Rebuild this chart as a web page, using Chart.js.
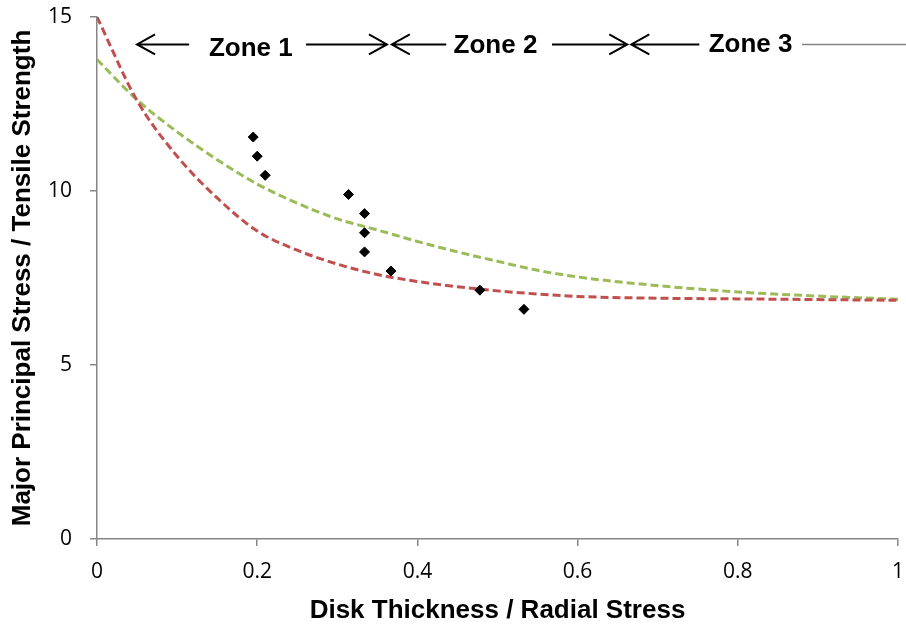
<!DOCTYPE html>
<html lang="en">
<head>
<meta charset="UTF-8">
<title>Major Principal Stress vs Disk Thickness</title>
<script src="https://cdn.jsdelivr.net/npm/chart.js"></script>
<style>
  html, body { margin: 0; padding: 0; background: #fff; }
  #wrap { width: 906px; height: 626px; }
</style>
</head>
<body>
<div id="wrap"><canvas id="stressChart" width="906" height="626"></canvas></div>
<script>
// test results (diamonds)
const testX = [0.195, 0.2, 0.21, 0.314, 0.334, 0.334, 0.334, 0.367, 0.478, 0.533];
const testY = [11.55, 11.0, 10.45, 9.9, 9.35, 8.8, 8.25, 7.7, 7.15, 6.6];

// the two dashed bound curves, sampled along x
const curveX = [0, 0.05, 0.1, 0.15, 0.2, 0.25, 0.3, 0.35, 0.4, 0.45, 0.5, 0.55, 0.6, 0.7, 0.8, 0.9, 1];
const redY   = [15, 12.6, 11.0, 9.8, 8.85, 8.3, 7.9, 7.6, 7.4, 7.25, 7.13, 7.04, 6.97, 6.92, 6.9, 6.88, 6.86];
const greenY = [13.78, 12.62, 11.7, 10.9, 10.2, 9.65, 9.2, 8.88, 8.55, 8.25, 7.98, 7.72, 7.53, 7.28, 7.1, 6.98, 6.89];

const xTicks = [0, 0.2, 0.4, 0.6, 0.8, 1];
const yTicks = [0, 5, 10, 15];
const zoneNames = ['Zone 1', 'Zone 2', 'Zone 3'];

// where the zone labels and arrows sit, in axis units
const zoneMarks = [
  { text: zoneNames[0], at: 0.192, ty: 14.08, left: [0.115, 0.05], right: [0.261, 0.362] },
  { text: zoneNames[1], at: 0.4975, ty: 14.17, left: [0.436, 0.368], right: [0.568, 0.662] },
  { text: zoneNames[2], at: 0.816, ty: 14.2, left: [0.752, 0.667], tail: [0.88, 1.01] }
];
const arrowY = 14.21;

function toPoints(xs, ys) {
  return xs.map((x, i) => ({ x: x, y: ys[i] }));
}

function arrow(ctx, xFrom, xTip, y) {
  const dir = xTip > xFrom ? 1 : -1;
  ctx.beginPath();
  ctx.moveTo(xFrom, y);
  ctx.lineTo(xTip, y);
  ctx.moveTo(xTip - dir * 18, y - 10);
  ctx.lineTo(xTip, y);
  ctx.lineTo(xTip - dir * 18, y + 10);
  ctx.stroke();
}

const zonePlugin = {
  id: 'zones',
  afterDatasetsDraw(chart) {
    const ctx = chart.ctx;
    const xs = chart.scales.x, ys = chart.scales.y;
    const ay = ys.getPixelForValue(arrowY);
    ctx.save();
    ctx.font = 'bold 26px "Liberation Sans", Arial, sans-serif';
    ctx.textAlign = 'center';
    ctx.textBaseline = 'middle';
    ctx.fillStyle = '#000';
    ctx.strokeStyle = '#000';
    ctx.lineWidth = 2;
    zoneMarks.forEach(z => {
      ctx.fillText(z.text, xs.getPixelForValue(z.at), ys.getPixelForValue(z.ty));
      arrow(ctx, xs.getPixelForValue(z.left[0]), xs.getPixelForValue(z.left[1]), ay);
      if (z.right) {
        arrow(ctx, xs.getPixelForValue(z.right[0]), xs.getPixelForValue(z.right[1]), ay);
      }
      if (z.tail) {
        ctx.save();
        ctx.strokeStyle = '#868686';
        ctx.lineWidth = 1.5;
        ctx.beginPath();
        ctx.moveTo(xs.getPixelForValue(z.tail[0]), ay);
        ctx.lineTo(xs.getPixelForValue(z.tail[1]), ay);
        ctx.stroke();
        ctx.restore();
      }
    });
    ctx.restore();
  }
};

const axisGrey = '#868686';
const titleFont = { family: '"Liberation Sans", Arial, sans-serif', size: 26, weight: 'bold' };
const tickFont = { family: '"Open Sans", sans-serif', size: 21 };

const curveStyle = {
  showLine: true,
  borderWidth: 3,
  borderDash: [8, 4],
  pointRadius: 0,
  cubicInterpolationMode: 'monotone'
};

// fixed axis boxes; labels are allowed to overhang the plot edges
function fitBox(s, size) {
  if (s.isHorizontal()) s.height = size; else s.width = size;
  s.paddingTop = s.paddingBottom = s.paddingLeft = s.paddingRight = 0;
}

new Chart(document.getElementById('stressChart'), {
  type: 'scatter',
  data: {
    datasets: [
      {
        label: 'Tests',
        data: toPoints(testX, testY),
        pointStyle: 'rectRot',
        pointRadius: 5,
        backgroundColor: '#000',
        borderColor: '#000',
        borderWidth: 1
      },
      Object.assign({ label: 'Upper', data: toPoints(curveX, redY), borderColor: '#c0504d' }, curveStyle),
      Object.assign({ label: 'Lower', data: toPoints(curveX, greenY), borderColor: '#9bbb59' }, curveStyle)
    ]
  },
  options: {
    responsive: false,
    animation: false,
    layout: { padding: { top: 17, right: 8, left: 0, bottom: 0 } },
    plugins: {
      legend: { display: false },
      tooltip: { enabled: false }
    },
    scales: {
      x: {
        type: 'linear',
        min: 0,
        max: 1,
        afterBuildTicks: s => { s.ticks = xTicks.map(v => ({ value: v })); },
        afterFit: s => fitBox(s, 87),
        ticks: {
          font: tickFont,
          color: '#000',
          padding: 13,
          callback: v => String(Number(v.toFixed(1)))
        },
        grid: { drawOnChartArea: false, drawTicks: true, tickLength: 7, color: axisGrey, lineWidth: 1.5 },
        border: { color: axisGrey, width: 1.5 },
        title: { display: true, text: 'Disk Thickness / Radial Stress', font: titleFont, color: '#000', padding: { top: 0, bottom: 0 } }
      },
      y: {
        min: 0,
        max: 15,
        afterBuildTicks: s => { s.ticks = yTicks.map(v => ({ value: v })); },
        afterFit: s => fitBox(s, 97),
        ticks: { font: tickFont, color: '#000', padding: 18 },
        grid: { drawOnChartArea: false, drawTicks: true, tickLength: 7, color: axisGrey, lineWidth: 1.5 },
        border: { color: axisGrey, width: 1.5 },
        title: { display: true, text: 'Major Principal Stress / Tensile Strength', font: titleFont, color: '#000', padding: { top: 7, bottom: 0 } }
      }
    }
  },
  plugins: [zonePlugin]
});
</script>
</body>
</html>
